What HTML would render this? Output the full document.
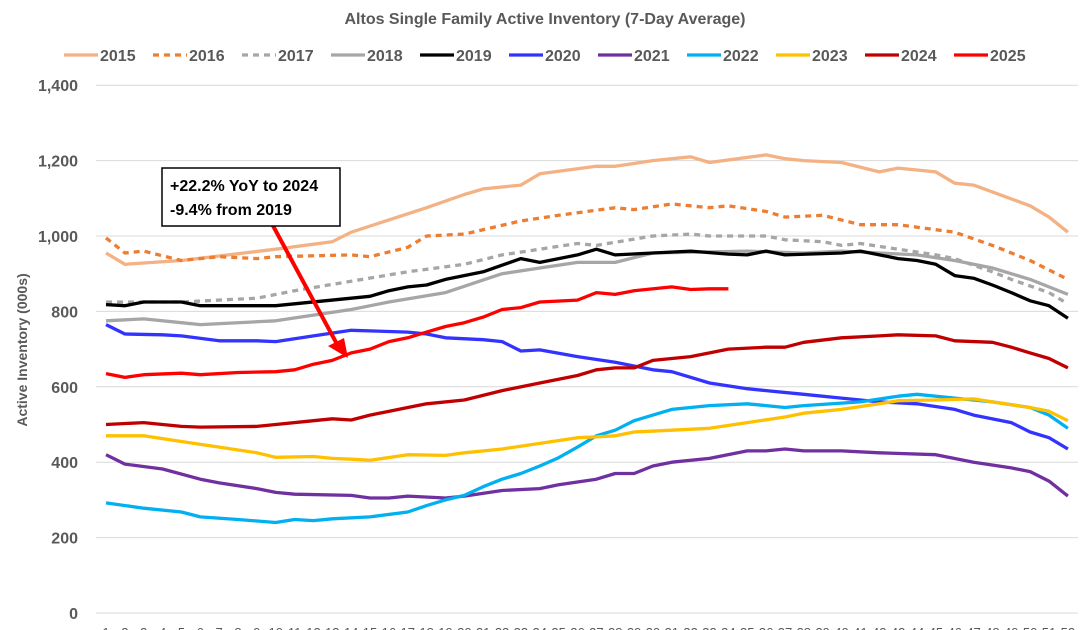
<!DOCTYPE html><html><head><meta charset="utf-8"><style>body{margin:0;background:#fff}svg{display:block}text{font-family:"Liberation Sans",sans-serif}</style></head><body>
<svg id="s" width="1090" height="630" viewBox="0 0 1090 630"></svg>
<script>
const s=document.getElementById('s');let h='';
const Y=v=>613-v*0.377, X=w=>106+(w-1)*18.86;
h+='<text x="545" y="24" text-anchor="middle" font-size="16" font-weight="bold" fill="#595959">Altos Single Family Active Inventory (7-Day Average)</text>';
for(let v=0;v<=1400;v+=200){h+=`<line x1="96" x2="1078" y1="${Y(v)}" y2="${Y(v)}" stroke="#d9d9d9"/>`;h+=`<text x="78" y="${Y(v)+6}" text-anchor="end" font-size="16" font-weight="bold" fill="#595959">${v.toLocaleString('en-US')}</text>`;}
for(let w=1;w<=52;w++)h+=`<text x="${X(w)}" y="637" text-anchor="middle" font-size="13" fill="#595959">${w}</text>`;
h+='<text transform="translate(27,350) rotate(-90)" text-anchor="middle" font-size="14" font-weight="bold" fill="#595959">Active Inventory (000s)</text>';
const S=[
['2015','#f4b183','',[[1,955],[2,925],[5,935],[10,965],[13,985],[14,1010],[18,1075],[20,1110],[21,1125],[23,1135],[24,1165],[27,1185],[28,1185],[30,1200],[32,1210],[33,1195],[36,1215],[37,1205],[38,1200],[40,1195],[42,1170],[43,1180],[45,1170],[46,1140],[47,1135],[50,1080],[51,1050],[52,1010]]],
['2016','#ed7d31','6,5',[[1,995],[2,955],[3,960],[5,935],[7,945],[9,940],[10,945],[14,950],[15,945],[17,970],[18,1000],[20,1005],[23,1040],[25,1055],[28,1075],[29,1070],[31,1085],[33,1075],[34,1080],[36,1065],[37,1050],[39,1055],[41,1030],[43,1030],[46,1010],[48,975],[50,935],[52,885]]],
['2017','#a6a6a6','6,5',[[1,825],[5,825],[9,835],[11,855],[14,880],[17,905],[20,925],[22,950],[24,965],[26,980],[27,975],[30,1000],[32,1005],[33,1000],[36,1000],[37,990],[39,985],[40,975],[41,980],[43,965],[45,950],[46,940],[48,905],[49,885],[51,850],[52,820]]],
['2018','#a6a6a6','',[[1,775],[3,780],[5,770],[6,765],[10,775],[14,805],[16,825],[19,850],[22,900],[24,915],[26,930],[28,930],[30,955],[35,960],[38,955],[40,960],[44,950],[46,935],[48,915],[50,885],[52,845]]],
['2019','#000000','',[[1,818],[2,815],[3,825],[5,825],[6,815],[7,815],[10,815],[14,835],[15,840],[16,855],[17,865],[18,870],[19,885],[21,905],[23,940],[24,930],[26,950],[27,965],[28,950],[30,955],[32,960],[34,952],[35,950],[36,960],[37,950],[40,955],[41,960],[43,940],[44,935],[45,925],[46,895],[47,888],[48,870],[49,850],[50,828],[51,815],[52,782]]],
['2020','#3333ff','',[[1,765],[2,740],[4,738],[5,735],[7,722],[9,722],[10,720],[12,735],[14,750],[17,745],[18,740],[19,730],[21,725],[22,720],[23,695],[24,698],[26,680],[28,665],[30,645],[31,640],[33,610],[35,595],[36,590],[38,580],[40,570],[42,560],[44,555],[46,540],[47,525],[49,505],[50,480],[51,465],[52,435]]],
['2021','#7030a0','',[[1,420],[2,395],[4,382],[6,355],[7,345],[9,330],[10,320],[11,315],[14,312],[15,305],[16,305],[17,310],[19,305],[20,310],[22,325],[24,330],[25,340],[27,355],[28,370],[29,370],[30,390],[31,400],[33,410],[35,430],[36,430],[37,435],[38,430],[40,430],[42,425],[45,420],[47,400],[49,385],[50,375],[51,350],[52,310]]],
['2022','#00b0f0','',[[1,292],[3,278],[5,268],[6,255],[8,248],[10,240],[11,248],[12,245],[13,250],[15,255],[17,268],[18,285],[19,300],[20,312],[21,335],[22,355],[23,370],[24,390],[25,412],[26,440],[27,470],[28,485],[29,510],[30,525],[31,540],[33,550],[35,555],[36,550],[37,545],[38,550],[41,560],[43,575],[44,580],[46,570],[47,565],[48,560],[50,545],[51,525],[52,490]]],
['2023','#ffc000','',[[1,470],[3,470],[5,455],[7,440],[9,425],[10,413],[12,415],[13,410],[14,408],[15,405],[17,420],[19,418],[20,425],[22,435],[24,450],[26,465],[27,467],[28,470],[29,480],[31,485],[33,490],[35,505],[37,520],[38,530],[40,540],[42,555],[43,563],[45,565],[47,568],[48,560],[50,545],[51,535],[52,510]]],
['2024','#c00000','',[[1,500],[3,505],[5,495],[6,493],[9,495],[10,500],[12,510],[13,515],[14,512],[15,525],[17,545],[18,555],[20,565],[22,590],[24,610],[26,630],[27,645],[28,650],[29,650],[30,670],[32,680],[34,700],[36,705],[37,705],[38,718],[40,730],[42,735],[43,738],[45,735],[46,722],[48,718],[49,705],[50,690],[51,675],[52,650]]],
['2025','#ff0000','',[[1,635],[2,625],[3,632],[5,636],[6,632],[8,638],[10,640],[11,645],[12,660],[13,670],[14,690],[15,700],[16,720],[17,730],[18,745],[19,760],[20,770],[21,785],[22,805],[23,810],[24,825],[26,830],[27,850],[28,845],[29,855],[31,865],[32,858],[33,860],[34,860]]]];
S.forEach((d,i)=>{const p=d[3].map(q=>X(q[0]).toFixed(1)+','+Y(q[1]).toFixed(1)).join(' ');
h+=`<polyline points="${p}" fill="none" stroke="${d[1]}" stroke-width="3.3" ${d[2]?'stroke-dasharray="'+d[2]+'"':''} stroke-linejoin="round"/>`;
const lx=64+i*89;h+=`<line x1="${lx}" x2="${lx+34}" y1="55" y2="55" stroke="${d[1]}" stroke-width="3.3" ${d[2]?'stroke-dasharray="6,5"':''}/>`;
h+=`<text x="${lx+36}" y="61" font-size="16" font-weight="bold" fill="#595959">${d[0]}</text>`;});
h+='<line x1="258" y1="198" x2="338" y2="346" stroke="#ff0000" stroke-width="4"/><polygon points="348,358 328,346 344,338" fill="#ff0000"/>';
h+='<rect x="162" y="168" width="178" height="58" fill="#fff" stroke="#000" stroke-width="1.5"/>';
h+='<text x="170" y="191" font-size="16" font-weight="bold" fill="#000">+22.2% YoY to 2024</text><text x="170" y="215" font-size="16" font-weight="bold" fill="#000">-9.4% from 2019</text>';
s.innerHTML=h;
</script></body></html>
